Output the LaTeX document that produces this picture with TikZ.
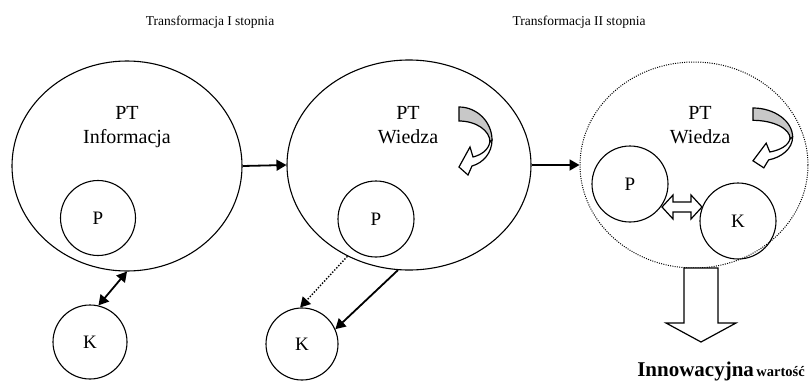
\documentclass[tikz,border=0pt]{standalone}
\usepackage{fontspec}
\setmainfont{Liberation Serif}
\usetikzlibrary{shapes.geometric,arrows.meta}
\definecolor{bandgray}{RGB}{200,200,200}
\begin{document}
\begin{tikzpicture}[x=1pt,y=-1pt,
  bigell/.style={ellipse, draw, line width=1.1pt, inner sep=0pt},
  circ/.style={circle, draw, line width=1.1pt, inner sep=0pt, minimum size=#1, font=\fontsize{19}{19}\selectfont},
  lbl/.style={font=\fontsize{20}{24}\selectfont, anchor=base, inner sep=0pt},
  ttl/.style={font=\fontsize{13.5}{14}\selectfont, anchor=base, inner sep=0pt},
  conn/.style={line width=1.8pt, -{Triangle[length=10pt,width=11pt]}},
  dblconn/.style={line width=1.8pt, {Triangle[length=10pt,width=11pt]}-{Triangle[length=10pt,width=11pt]}},
  dotconn/.style={line width=1.4pt, dash pattern=on 1.4pt off 1.6pt, -{Triangle[length=10pt,width=11pt]}},
  hollow/.style={draw, fill=white, line width=1.2pt, line join=miter},
  turnarrow/.pic={
    \draw[hollow] (31,34) .. controls (30,43) and (22,48) .. (14,50) -- (11,40) -- (0,60) -- (9,68) -- (13,59)
      .. controls (24,56) and (33,46) .. (33,33) -- cycle;
    \draw[line width=1.2pt, fill=bandgray] (0,0) .. controls (18,0) and (33,15) .. (33,33) -- (31,35)
      .. controls (31,23.5) and (17,14) .. (0,14) -- cycle;
  }
]
\useasboundingbox (0,0) rectangle (811,383);

% titles
\node[ttl] (t1) at (210,25) {Transformacja I stopnia};
\node[ttl] (t2) at (579,25) {Transformacja II stopnia};

% big ellipses
\node[bigell, minimum width=230pt, minimum height=210pt] (E1) at (127,166) {};
\node[bigell, minimum width=244pt, minimum height=210pt] (E2) at (409,165) {};
\node[ellipse, draw, line width=1pt, dash pattern=on 1pt off 1.3pt, inner sep=0pt,
      minimum width=228pt, minimum height=206pt] (E3) at (694,165) {};

% labels inside ellipses
\node[lbl] (l1a) at (127,119) {PT};
\node[lbl] (l1b) at (127,143) {Informacja};
\node[lbl] (l2a) at (408,119) {PT};
\node[lbl] (l2b) at (408,143) {Wiedza};
\node[lbl] (l3a) at (700,119) {PT};
\node[lbl] (l3b) at (700,143) {Wiedza};

% small circles
\node[circ=75pt] (P1) at (98,218) {P};
\node[circ=74pt] (K1) at (90,342) {K};
\node[circ=76pt] (P2) at (376,219) {P};
\node[circ=72pt] (K2) at (302,344) {K};
\node[circ=76pt] (P3) at (630,184) {P};
\node[circ=76pt] (K3) at (738,221) {K};

% connectors
\draw[conn] (E1.east) -- (E2.west);
\draw[conn] (E2.east) -- (E3.west);
\draw[dblconn] (E1.south) -- (K1.77);
\draw[dotconn] (E2.236) -- (K2.93);
\draw[conn] (E2.264) -- (K2.24);

% hollow double arrow between P3 and K3
\draw[hollow] (662,207) -- (673,195) -- (673,202) -- (691,202) -- (691,195) -- (702,207)
  -- (691,219) -- (691,212) -- (673,212) -- (673,219) -- cycle;

% big hollow down arrow
\draw[hollow] (684,268) -- (684,323) -- (666,323) -- (701,342) -- (736,323) -- (718,323) -- (718,268) -- cycle;

% curved turn arrows
\pic at (459,107) {turnarrow};
\pic[xscale=1.2, yscale=0.88] at (753,108) {turnarrow};

% bottom text
\node[anchor=base east, inner sep=0pt] (inno) at (805,376)
  {{\fontsize{21}{21}\selectfont\bfseries Innowacyjna} {\fontsize{14.5}{15}\selectfont\bfseries wartość}};
\end{tikzpicture}
\end{document}
